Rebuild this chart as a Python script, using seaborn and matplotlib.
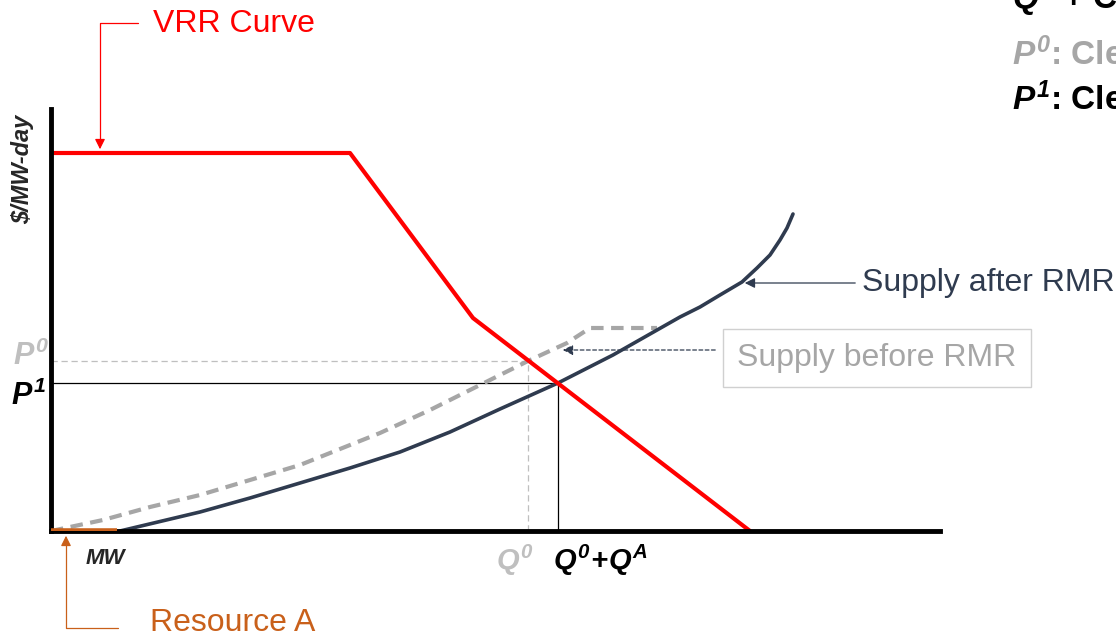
import numpy as np
import pandas as pd
import matplotlib
matplotlib.use("Agg")
import matplotlib.pyplot as plt
from matplotlib import font_manager
import seaborn as sns

# VRR demand curve (x = MW, y = $/MW-day), chart units
vrr_x = [0, 299, 422, 699]
vrr_y = [378, 378, 213, 0]

# supply curve after RMR (solid navy)
after_x = [69, 149, 199, 249, 299, 349, 399, 449, 507, 562, 629, 649, 669,
           691, 706, 719, 729, 736, 742]
after_y = [0, 19, 33, 48, 63, 79, 99, 122, 148, 176, 214, 224, 236,
           249, 263, 276, 291, 303, 317]

# supply curve before RMR (grey dashed)
before_x = [0, 52, 99, 149, 199, 249, 299, 329, 379, 429, 477, 516, 539, 606]
before_y = [0, 11, 24, 36, 51, 66, 86, 98, 121, 146, 170, 188, 203, 203]

# clearing points
q0, p0 = 477, 170
q1, p1 = 507, 148
resource_a = [0, 66]

RED = "#FF0000"
NAVY = "#2F3B4F"
GREY = "#A6A6A6"
LIGHT = "#BFBFBF"
ORANGE = "#C9601A"

installed = {f.name for f in font_manager.fontManager.ttflist}
FONT = next((f for f in ["Liberation Sans Narrow", "Arial Narrow", "Liberation Sans"]
             if f in installed), "DejaVu Sans")
NARROW = "Narrow" in FONT
big = 26 if NARROW else 23

sns.set_style("white")
plt.rcParams["font.family"] = [FONT, "DejaVu Sans"]
plt.rcParams["mathtext.fontset"] = "custom"
for key in ["rm", "it", "bf"]:
    plt.rcParams["mathtext." + key] = FONT + ":italic:bold"

W, H = 1116, 639
fig = plt.figure(figsize=(W / 100, H / 100), dpi=100)
ax = fig.add_axes([51 / W, 1 - 531 / H, (940 - 51) / W, (531 - 109) / H])
ax.set_xlim(0, 889)
ax.set_ylim(0, 422)


def px(x, y):
    # pixel position in the picture -> chart units
    return x - 51, 531 - y


# reference lines for the clearing points
ax.plot([0, q0], [p0, p0], color=LIGHT, lw=0.9, ls=(0, (5, 3)))
ax.plot([q0, q0], [0, p0], color=LIGHT, lw=0.9, ls=(0, (5, 3)))
ax.plot([0, q1], [p1, p1], color="black", lw=0.9)
ax.plot([q1, q1], [0, p1], color="black", lw=0.9)

curves = pd.DataFrame({"x": before_x, "y": before_y})
sns.lineplot(data=curves, x="x", y="y", sort=False, ax=ax, color=GREY, lw=3,
             linestyle=(0, (3, 1.8)), solid_joinstyle="round")
sns.lineplot(x=after_x, y=after_y, sort=False, ax=ax, color=NAVY, lw=2.6,
             solid_joinstyle="round")
sns.lineplot(x=vrr_x, y=vrr_y, sort=False, ax=ax, color=RED, lw=3)
ax.plot(resource_a, [0, 0], color=ORANGE, lw=4, solid_capstyle="butt", zorder=5)

for s in ["top", "right"]:
    ax.spines[s].set_visible(False)
for s in ["left", "bottom"]:
    ax.spines[s].set_linewidth(3.5)
    ax.spines[s].set_color("black")
ax.set_xticks([])
ax.set_yticks([])
ax.set_xlabel("")
ax.set_ylabel("")

# axis captions
ax.text(*px(23, 169), r"\$/MW-day", rotation=90, ha="center", va="center",
        fontsize=17, fontweight="bold", style="italic", clip_on=False)
ax.text(*px(105, 558), "MW", ha="center", va="center", fontsize=16,
        fontweight="bold", style="italic", clip_on=False)
ax.text(*px(31, 356), r"$P^{0}$", ha="center", va="center", fontsize=22,
        color=LIGHT, clip_on=False)
ax.text(*px(29, 396), r"$P^{1}$", ha="center", va="center", fontsize=22,
        color="black", clip_on=False)
ax.text(*px(515, 560), r"$Q^{0}$", ha="center", va="center", fontsize=21,
        color=LIGHT, clip_on=False)
ax.text(*px(601, 560), r"$Q^{0}\!+\!Q^{A}$", ha="center", va="center", fontsize=21,
        color="black", clip_on=False)

# VRR callout
ax.plot(*zip(px(138, 23), px(100, 23), px(100, 140)), color=RED, lw=0.9, clip_on=False)
ax.annotate("", xy=px(100, 152), xytext=px(100, 140),
            arrowprops=dict(arrowstyle="-|>", color=RED, lw=0.9, mutation_scale=15),
            annotation_clip=False)
ax.text(*px(153, 24), "VRR Curve", ha="left", va="center", fontsize=big,
        color=RED, clip_on=False)

# Resource A callout
ax.plot(*zip(px(66, 545), px(66, 628), px(118, 628)), color=ORANGE, lw=0.9, clip_on=False)
ax.annotate("", xy=px(66, 533), xytext=px(66, 545),
            arrowprops=dict(arrowstyle="-|>", color=ORANGE, lw=0.9, mutation_scale=15),
            annotation_clip=False)
ax.text(*px(150, 623), "Resource A", ha="left", va="center", fontsize=big,
        color=ORANGE, clip_on=False)

# supply labels
ax.annotate("", xy=px(742, 283), xytext=px(858, 283),
            arrowprops=dict(arrowstyle="-|>", color=NAVY, lw=0.9, mutation_scale=15),
            annotation_clip=False)
ax.text(*px(862, 283), "Supply after RMR", ha="left", va="center", fontsize=big,
        color=NAVY, clip_on=False)
ax.annotate("", xy=px(560, 350), xytext=px(718, 350),
            arrowprops=dict(arrowstyle="-|>", color=NAVY, lw=0.9, ls=(0, (3, 2)),
                            mutation_scale=15),
            annotation_clip=False)
ax.text(*px(737, 358), "Supply before RMR", ha="left", va="center", fontsize=big,
        color=GREY, clip_on=False,
        bbox=dict(boxstyle="square,pad=0.45", fc="white", ec="#D0D0D0", lw=1))

# legend text on the right, cut by the picture edge as in the source slide
ax.text(*px(1012, -2), r"$Q^{1}$ + Co", ha="left", va="center",
        fontsize=24, fontweight="bold", color="black", clip_on=False)
ax.text(*px(1012, 55), r"$P^{0}$: Cle", ha="left", va="center",
        fontsize=24, fontweight="bold", color=GREY, clip_on=False)
ax.text(*px(1012, 100), r"$P^{1}$: Cle", ha="left", va="center",
        fontsize=24, fontweight="bold", color="black", clip_on=False)

fig.savefig("out.png", dpi=100)
